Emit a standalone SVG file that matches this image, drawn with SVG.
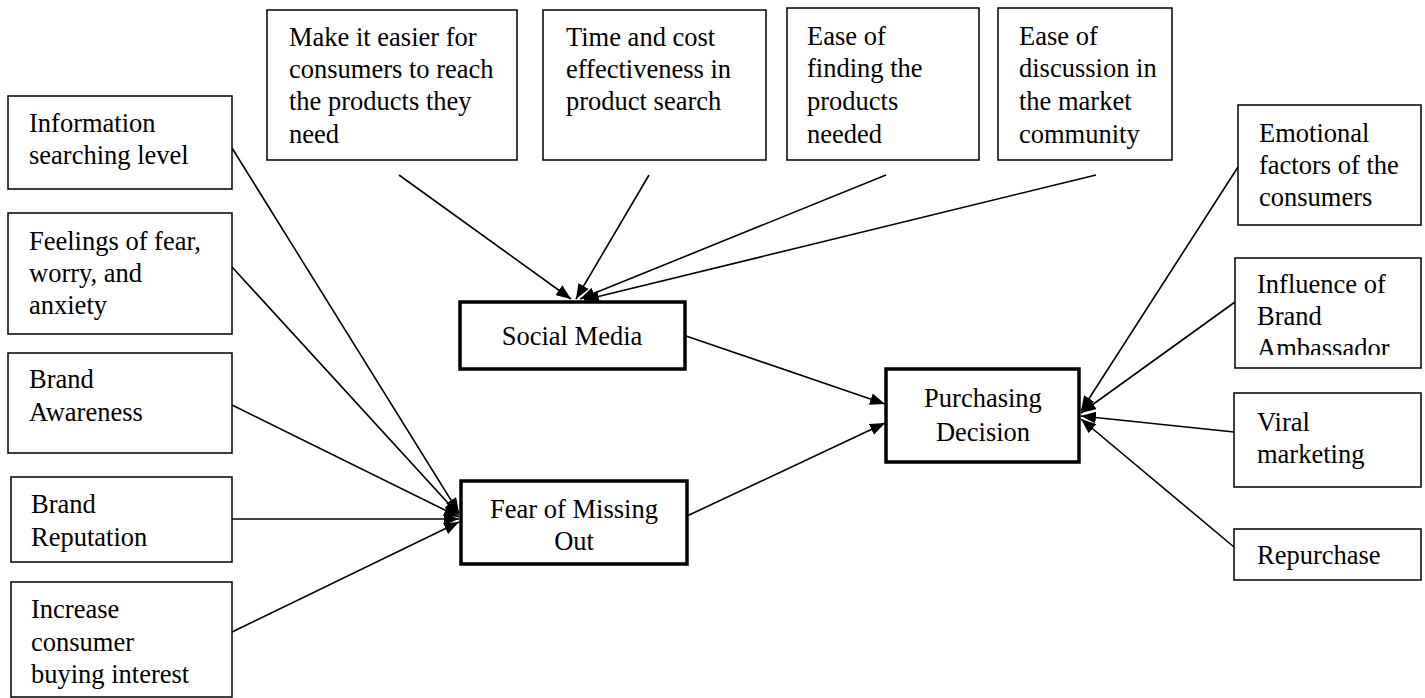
<svg xmlns="http://www.w3.org/2000/svg" width="1425" height="698" viewBox="0 0 1425 698">
<style>
.box{fill:#fff;stroke:#000;stroke-width:1.5}
.core{fill:#fff;stroke:#000;stroke-width:3.5}
text{font-family:"Liberation Serif","Times New Roman",serif;font-size:26.5px;fill:#000}
.c{text-anchor:middle}
.ln{stroke:#000;stroke-width:1.6;fill:none;marker-end:url(#ah)}
</style>
<defs>
<marker id="ah" markerUnits="userSpaceOnUse" markerWidth="16" markerHeight="12" refX="15" refY="6" orient="auto">
<path d="M0,0 L15,6 L0,12 z" fill="#000"/>
</marker>
<clipPath id="clipInf"><rect x="1235" y="258" width="186" height="97"/></clipPath>
</defs>
<rect width="1425" height="698" fill="#fff"/>

<g id="connectors">
<line class="ln" x1="399" y1="175" x2="571" y2="299"/>
<line class="ln" x1="649" y1="175" x2="576" y2="299"/>
<line class="ln" x1="886" y1="175" x2="580" y2="299"/>
<line class="ln" x1="1096" y1="175" x2="584" y2="300"/>
<line class="ln" x1="232" y1="148" x2="459" y2="513"/>
<line class="ln" x1="232" y1="267" x2="459" y2="515"/>
<line class="ln" x1="232" y1="405" x2="459" y2="517"/>
<line class="ln" x1="232" y1="519" x2="459" y2="519"/>
<line class="ln" x1="232" y1="632" x2="459" y2="522"/>
<line class="ln" x1="686" y1="336" x2="885" y2="404"/>
<line class="ln" x1="687" y1="516" x2="885" y2="423"/>
<line class="ln" x1="1238" y1="167" x2="1081" y2="411"/>
<line class="ln" x1="1235" y1="302" x2="1081" y2="413"/>
<line class="ln" x1="1234" y1="432" x2="1081" y2="416"/>
<line class="ln" x1="1234" y1="547" x2="1081" y2="419"/>
</g>

<g id="n-info"><rect class="box" x="8" y="96" width="224" height="93"/>
<text x="29" y="132">Information</text><text x="29" y="164">searching level</text></g>
<g id="n-feel"><rect class="box" x="8" y="213" width="224" height="121"/>
<text x="29" y="250">Feelings of fear,</text><text x="29" y="282">worry, and</text><text x="29" y="314">anxiety</text></g>
<g id="n-aware"><rect class="box" x="8" y="353" width="224" height="100"/>
<text x="29" y="388">Brand</text><text x="29" y="421">Awareness</text></g>
<g id="n-rep"><rect class="box" x="11" y="477" width="221" height="85"/>
<text x="31" y="513">Brand</text><text x="31" y="546">Reputation</text></g>
<g id="n-inc"><rect class="box" x="11" y="582" width="221" height="115"/>
<text x="31" y="618">Increase</text><text x="31" y="651">consumer</text><text x="31" y="683">buying interest</text></g>

<g id="n-easier"><rect class="box" x="267" y="10" width="250" height="150"/>
<text x="289" y="46">Make it easier for</text><text x="289" y="78">consumers to reach</text><text x="289" y="110">the products they</text><text x="289" y="143">need</text></g>
<g id="n-time"><rect class="box" x="543" y="10" width="223" height="150"/>
<text x="566" y="46">Time and cost</text><text x="566" y="78">effectiveness in</text><text x="566" y="110">product search</text></g>
<g id="n-find"><rect class="box" x="787" y="8" width="192" height="152"/>
<text x="807" y="45">Ease of</text><text x="807" y="77">finding the</text><text x="807" y="110">products</text><text x="807" y="143">needed</text></g>
<g id="n-disc"><rect class="box" x="998" y="8" width="174" height="152"/>
<text x="1019" y="45">Ease of</text><text x="1019" y="77">discussion in</text><text x="1019" y="110">the market</text><text x="1019" y="143">community</text></g>

<g id="n-emo"><rect class="box" x="1238" y="105" width="183" height="120"/>
<text x="1259" y="142">Emotional</text><text x="1259" y="174">factors of the</text><text x="1259" y="206">consumers</text></g>
<g id="n-infl"><rect class="box" x="1235" y="258" width="186" height="110"/>
<g clip-path="url(#clipInf)"><text x="1257" y="293">Influence of</text><text x="1257" y="325">Brand</text><text x="1257" y="357">Ambassador</text></g></g>
<g id="n-viral"><rect class="box" x="1234" y="393" width="187" height="94"/>
<text x="1257" y="431">Viral</text><text x="1257" y="463">marketing</text></g>
<g id="n-rep2"><rect class="box" x="1234" y="529" width="187" height="51"/>
<text x="1257" y="564">Repurchase</text></g>

<g id="n-social"><rect class="core" x="460" y="302" width="225" height="67"/>
<text class="c" x="572" y="345">Social Media</text></g>
<g id="n-fomo"><rect class="core" x="461" y="481" width="226" height="83"/>
<text class="c" x="574" y="518">Fear of Missing</text><text class="c" x="574" y="550">Out</text></g>
<g id="n-purch"><rect class="core" x="886" y="369" width="193" height="93"/>
<text class="c" x="983" y="407">Purchasing</text><text class="c" x="983" y="441">Decision</text></g>
</svg>
